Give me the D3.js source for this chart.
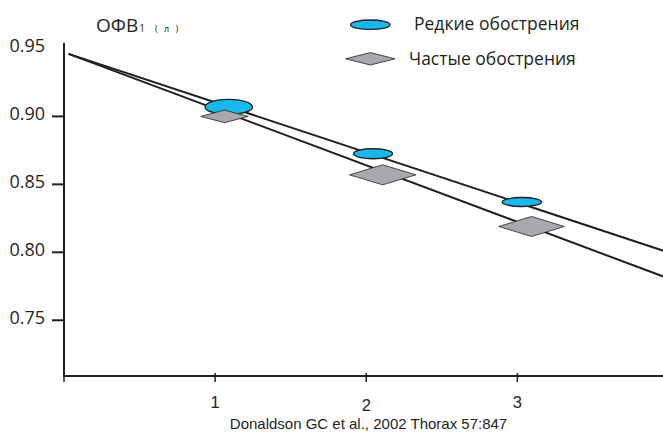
<!DOCTYPE html>
<html>
<head>
<meta charset="utf-8">
<script src="https://cdn.jsdelivr.net/npm/d3@7"></script>
<style>
  body { margin: 0; background: #ffffff; }
  svg { display: block; }
  text { font-family: "Open Sans", "Noto Sans", sans-serif; fill: #231f20; }
  text.compact { font-family: "Liberation Sans", Arial, sans-serif; }
</style>
</head>
<body>
<svg id="chart" width="663" height="432"></svg>
<script>
// FEV1 decline by exacerbation frequency
const seriesNames = ["Редкие обострения", "Частые обострения"];
const yTickValues = [0.75, 0.80, 0.85, 0.90];
const yLabelValues = [0.75, 0.80, 0.85, 0.90, 0.95];
const xTickValues = [1, 2, 3];

// observed points
const rareX = [1.09, 2.045, 3.03];
const rareY = [0.907, 0.8725, 0.837];
const frequentX = [1.062, 2.109, 3.094];
const frequentY = [0.900, 0.857, 0.819];

// fitted trend lines
const trendX = [0.03, 3.97];
const rareTrendY = [0.946, 0.801];
const frequentTrendY = [0.946, 0.782];

const sourceNote = "Donaldson GC et al., 2002 Thorax 57:847";

// ---- styling / layout ----
const ink = "#231f20";
const cyan = "#18b8ea";
const grey = "#a8a9ac";
const ellipseRadii = [[23.7, 7.5], [19.5, 5], [19.7, 4.5]];
const diamondHalf = [[23.8, 6.3], [33.2, 10], [32.8, 10]];
const xLabelShift = [0, 3, 0];

const svg = d3.select("#chart");
const plotLeft = 64, plotRight = 663.5, plotTop = 43, plotBottom = 376;

const x = d3.scaleLinear().domain([0, 3.967]).range([plotLeft, plotRight]);
const y = d3.scaleLinear().domain([0.709, 0.954]).range([plotBottom, plotTop]);

// axes
svg.append("line").attr("x1", plotLeft).attr("x2", plotLeft).attr("y1", plotTop).attr("y2", plotBottom)
  .attr("stroke", ink).attr("stroke-width", 2);
svg.append("line").attr("x1", plotLeft - 1).attr("x2", 663).attr("y1", plotBottom).attr("y2", plotBottom)
  .attr("stroke", ink).attr("stroke-width", 2);

svg.selectAll(".ytick").data(yTickValues).join("line")
  .attr("x1", plotLeft - 12).attr("x2", plotLeft)
  .attr("y1", d => y(d)).attr("y2", d => y(d))
  .attr("stroke", ink).attr("stroke-width", 2);

svg.selectAll(".ylabel").data(yLabelValues).join("text")
  .attr("x", plotLeft - 19).attr("y", d => y(d))
  .attr("dy", "0.18em").attr("text-anchor", "end")
  .attr("font-size", 18)
  .text(d => d3.format(".2f")(d));

svg.selectAll(".xtick").data([0].concat(xTickValues)).join("line")
  .attr("x1", d => x(d)).attr("x2", d => x(d))
  .attr("y1", plotBottom - 3).attr("y2", plotBottom + 6)
  .attr("stroke", ink).attr("stroke-width", 1.5);

svg.selectAll(".xlabel").data(xTickValues).join("text")
  .attr("class", "compact")
  .attr("x", d => x(d)).attr("y", (d, i) => 408 + xLabelShift[i])
  .attr("text-anchor", "middle").attr("font-size", 16.5)
  .text(d => d);

// trend lines
const line = d3.line().x(d => x(d[0])).y(d => y(d[1]));
[rareTrendY, frequentTrendY].forEach(vals => {
  svg.append("path")
    .attr("d", line(trendX.map((v, i) => [v, vals[i]])))
    .attr("fill", "none").attr("stroke", ink).attr("stroke-width", 2);
});

// markers
const diamond = (cx, cy, hw, hh) =>
  `M${cx - hw},${cy}L${cx},${cy - hh}L${cx + hw},${cy}L${cx},${cy + hh}Z`;

svg.selectAll(".rare").data(rareX).join("ellipse")
  .attr("cx", d => x(d)).attr("cy", (d, i) => y(rareY[i]))
  .attr("rx", (d, i) => ellipseRadii[i][0]).attr("ry", (d, i) => ellipseRadii[i][1])
  .attr("fill", cyan).attr("stroke", ink).attr("stroke-width", 1.3);

svg.selectAll(".freq").data(frequentX).join("path")
  .attr("d", (d, i) => diamond(x(d), y(frequentY[i]), diamondHalf[i][0], diamondHalf[i][1]))
  .attr("fill", grey).attr("stroke", ink).attr("stroke-width", 0.8);

// title
const title = svg.append("text").attr("x", 96).attr("y", 32).attr("font-size", 19);
title.append("tspan").text("ОФВ");
title.append("tspan").attr("font-size", 10).attr("dx", 1).text("1");
title.append("tspan").attr("font-size", 9).attr("dx", 10).attr("letter-spacing", 2).text("( л )");

// legend
svg.append("ellipse").attr("cx", 370.3).attr("cy", 24.7).attr("rx", 19.7).attr("ry", 4.7)
  .attr("fill", cyan).attr("stroke", ink).attr("stroke-width", 1.3);
svg.append("text").attr("x", 414).attr("y", 29.5).attr("font-size", 17.5).text(seriesNames[0]);
svg.append("path").attr("d", diamond(370.3, 58.8, 24.7, 6.2))
  .attr("fill", grey).attr("stroke", ink).attr("stroke-width", 0.8);
svg.append("text").attr("x", 409).attr("y", 64.5).attr("font-size", 17.5).text(seriesNames[1]);

// source
svg.append("text").attr("class", "compact")
  .attr("x", 368.5).attr("y", 428.5).attr("text-anchor", "middle")
  .attr("font-size", 15).text(sourceNote);
</script>
</body>
</html>
